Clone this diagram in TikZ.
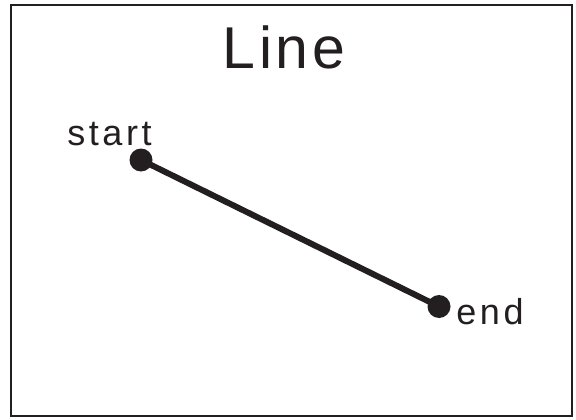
\documentclass[tikz,border=0pt]{standalone}
\usepackage{fontspec}
\setmainfont{Liberation Sans}
\newfontfamily\lblfont[LetterSpace=10]{Liberation Sans}
\newfontfamily\titlefont[LetterSpace=6]{Liberation Sans}
\usepackage{tikz}
\usetikzlibrary{positioning}
\definecolor{inkdark}{HTML}{231F20}

\begin{document}
\begin{tikzpicture}[x=1pt,y=-1pt,every node/.style={inner sep=0pt,text=inkdark},
  dot/.style={circle,fill=inkdark,minimum size=23pt}]
\useasboundingbox (0,0) rectangle (576,420);
\draw[inkdark,line width=1.8pt] (11,5) rectangle (572,416);
\node[anchor=base,font=\titlefont\fontsize{59}{59}\selectfont] (title) at (284,69) {Line};
\node[dot] (p1) at (141,160) {};
\node[dot] (p2) at (439,306.5) {};
\draw[inkdark,line width=6pt] (p1.center) -- (p2.center);
\node[anchor=base,font=\lblfont\fontsize{36}{36}\selectfont] (startlbl) at (109.5,145) {start};
\node[anchor=base,font=\lblfont\fontsize{36}{36}\selectfont] (endlbl) at (490,324) {end};
\end{tikzpicture}
\end{document}
